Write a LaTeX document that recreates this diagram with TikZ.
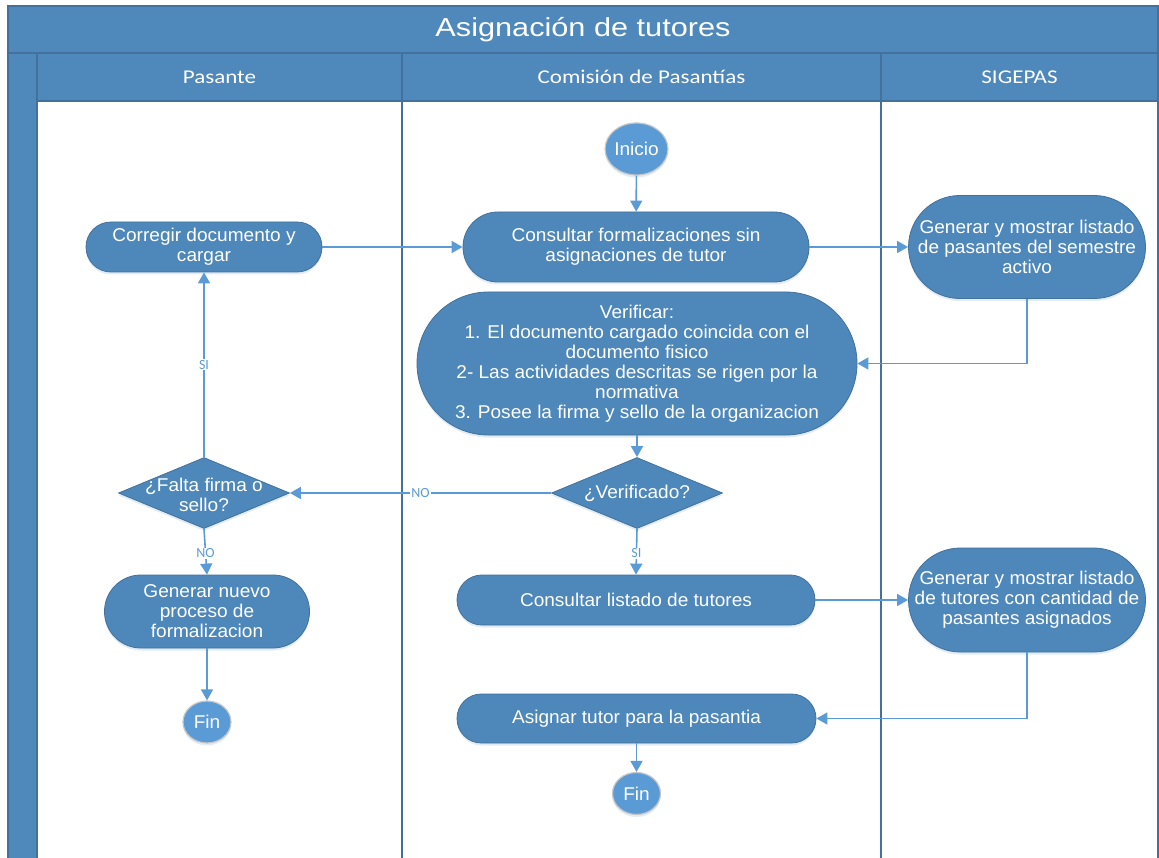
\documentclass[tikz,border=0pt]{standalone}
\usepackage{fontspec}
\setmainfont{Liberation Sans}
\newfontfamily\nodefont[FakeStretch=1.03]{Liberation Sans}
\newfontfamily\titlefont[FakeStretch=1.18]{Liberation Sans}
\newfontfamily\lanefont[FakeStretch=1.18]{Carlito}
\newfontfamily\labfont{Carlito}
\usetikzlibrary{shapes.geometric,arrows.meta,shadows}
\definecolor{hdr}{RGB}{79,136,187}
\definecolor{hdrline}{RGB}{65,113,156}
\definecolor{nodefill}{RGB}{78,135,186}
\definecolor{nodeline}{RGB}{65,113,156}
\definecolor{circfill}{RGB}{91,155,213}
\definecolor{arrowc}{RGB}{91,155,213}
\tikzset{
  nodetext/.style={text=white, font=\nodefont\fontsize{18.5}{20}\selectfont, align=center},
  softshadow/.style={drop shadow={shadow xshift=0pt, shadow yshift=-2.5pt, opacity=0.18, fill=arrowc}},
  proc/.style n args={3}{rectangle, rounded corners=#3, minimum width=#1, minimum height=#2,
    fill=nodefill, draw=nodeline, line width=0.8pt, inner sep=0pt, nodetext, softshadow},
  term/.style n args={2}{ellipse, minimum width=#1, minimum height=#2, inner sep=0pt,
    fill=circfill, draw=black!22, line width=1.2pt, nodetext, softshadow},
  dec/.style={diamond, minimum width=171pt, minimum height=71pt, inner sep=0pt,
    fill=nodefill, draw=nodeline, line width=0.8pt, softshadow},
  dectext/.style={nodetext},
  flow/.style={draw=arrowc, line width=1.6pt, -{Triangle[length=11pt,width=12pt]}},
  lab/.style={fill=white, text=arrowc, font=\labfont\fontsize{14}{16}\selectfont, inner sep=1pt},
  lanehdr/.style={text=white, font=\lanefont\fontsize{19.5}{22}\selectfont, anchor=base},
  lane/.style={draw=hdrline, line width=1.1pt}
}
\begin{document}
\begin{tikzpicture}[x=1pt,y=-1pt]
\clip (0,0) rectangle (1159,858);
\fill[white] (0,0) rectangle (1159,858);
% frame, title bar, header row, left strip
\fill[hdr] (8,6) rectangle (1158,101);
\fill[hdr] (8,53) rectangle (37,880);
\draw[lane] (8,6) rectangle (1158,880);
\draw[lane] (8,53) -- (1158,53);
\draw[lane] (37,53) rectangle (402,101);
\draw[lane] (402,53) rectangle (881,101);
\draw[lane] (881,53) rectangle (1158,101);
\draw[lane] (37,101) -- (37,880);
\draw[lane] (402,101) -- (402,880);
\draw[lane] (881,101) -- (881,880);
\node[text=white, font=\titlefont\fontsize{26}{30}\selectfont, anchor=base] (title) at (583,37) {Asignación de tutores};
\node[lanehdr] (h1) at (219.5,83.5) {Pasante};
\node[lanehdr] (h2) at (641.5,83.5) {Comisión de Pasantías};
\node[lanehdr] (h3) at (1019.5,83.5) {SIGEPAS};

% nodes
\node[term={61pt}{52pt}] (ini) at (636.5,149) {Inicio};
\node[proc={346pt}{70pt}{34.9pt}] (cf) at (636,247) {Consultar formalizaciones sin\\asignaciones de tutor};
\node[proc={237pt}{103pt}{51.4pt}] (pas) at (1027,247) {Generar y mostrar listado\\de pasantes del semestre\\activo};
\node[proc={236pt}{50pt}{24.9pt}] (cor) at (204,247) {Corregir documento y\\cargar};
\node[proc={440pt}{143pt}{71.4pt}] (ver) at (637,363.5) {Verificar:\\1. El documento cargado coincida con el\\documento fisico\\2- Las actividades descritas se rigen por la\\normativa\\3. Posee la firma y sello de la organizacion};
\node[dec, label={[dectext]center:{¿Verificado?}}] (vrf) at (637,493) {};
\node[dec, label={[dectext, yshift=-2pt]center:{¿Falta firma o\\sello?}}] (fal) at (204,493) {};
\node[proc={205pt}{73pt}{36.4pt}] (gen) at (207,611.5) {Generar nuevo\\proceso de\\formalizacion};
\node[term={48pt}{42pt}] (fin1) at (207,722) {Fin};
\node[proc={358pt}{50pt}{24.9pt}] (lst) at (636,600) {Consultar listado de tutores};
\node[proc={237pt}{104pt}{51.9pt}] (tut) at (1027,600) {Generar y mostrar listado\\de tutores con cantidad de\\pasantes asignados};
\node[proc={359pt}{49pt}{24.4pt}] (asg) at (636.5,718.5) {Asignar tutor para la pasantia};
\node[term={48pt}{42pt}] (fin2) at (636.5,793.5) {Fin};

% connectors
\draw[flow] (ini) -- (cf);
\draw[flow] (cor.east) -- (cf.west);
\draw[flow] (cf.east) -- (pas.west);
\draw[flow] (pas.south) |- (ver.east);
\draw[flow] (ver.south) -- (vrf.north);
\draw[flow] (vrf.west) -- node[lab]{NO} (fal.east);
\draw[flow] (fal.north) -- node[lab]{SI} (cor.south);
\draw[flow] (fal.south) -- node[lab, pos=0.53]{NO} (gen.north);
\draw[flow] (gen.south) -- (fin1);
\draw[flow] (vrf.south) -- node[lab, pos=0.53]{SI} (lst.north);
\draw[flow] (lst.east) -- (tut.west);
\draw[flow] (tut.south) |- (asg.east);
\draw[flow] (asg) -- (fin2);
\end{tikzpicture}
\end{document}
